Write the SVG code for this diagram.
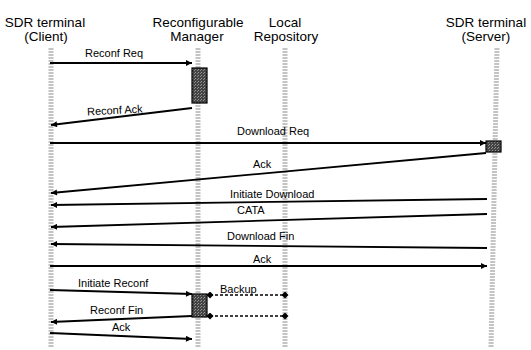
<svg xmlns="http://www.w3.org/2000/svg" width="531" height="350" viewBox="0 0 531 350">
<defs>
<marker id="arr" viewBox="0 0 10 10" refX="10" refY="5" markerWidth="8" markerHeight="6" markerUnits="userSpaceOnUse" orient="auto">
<path d="M0,0 L10,5 L0,10 z" fill="#000"/>
</marker>
<marker id="dia" viewBox="0 0 10 10" refX="5" refY="5" markerWidth="7" markerHeight="7" markerUnits="userSpaceOnUse" orient="auto">
<path d="M0,5 L5,0 L10,5 L5,10 z" fill="#000"/>
</marker>
<pattern id="tex" width="3" height="3" patternUnits="userSpaceOnUse">
<rect width="3" height="3" fill="#444"/>
<rect width="1" height="1" fill="#999"/>
<rect x="2" y="1" width="1" height="1" fill="#888"/>
</pattern>
</defs>
<style>
.hd{font-family:"Liberation Sans",Arial,sans-serif;font-size:13.5px;fill:#000;text-anchor:middle}
.lb{font-family:"Liberation Sans",Arial,sans-serif;font-size:11px;fill:#000}
.life{stroke:#c4c4c4;stroke-width:5;stroke-dasharray:2 1;fill:none}
.msg{stroke:#000;stroke-width:1.8;fill:none;marker-end:url(#arr)}
.dash{stroke:#000;stroke-width:1.4;fill:none;stroke-dasharray:3 2;marker-start:url(#dia);marker-end:url(#dia)}
.box{fill:url(#tex);stroke:#000;stroke-width:1.2}
</style>
<rect width="531" height="350" fill="#fff"/>
<g id="client">
<text class="hd" x="45" y="27">SDR terminal</text>
<text class="hd" x="46" y="41">(Client)</text>
<line class="life" x1="51" y1="48" x2="51" y2="348"/>
</g>
<g id="manager">
<text class="hd" x="198" y="27">Reconfigurable</text>
<text class="hd" x="197" y="41">Manager</text>
<line class="life" x1="198" y1="48" x2="198" y2="348"/>
<rect class="box" x="192" y="68" width="15" height="35"/>
<rect class="box" x="192" y="294" width="15" height="23"/>
</g>
<g id="repository">
<text class="hd" x="285" y="27">Local</text>
<text class="hd" x="286" y="41">Repository</text>
<line class="life" x1="285" y1="48" x2="285" y2="348"/>
</g>
<g id="server">
<text class="hd" x="486" y="27">SDR terminal</text>
<text class="hd" x="486" y="41">(Server)</text>
<line class="life" x1="497" y1="48" x2="491" y2="348"/>
<rect class="box" x="486" y="141" width="15" height="11"/>
</g>
<g id="connectors">
<line class="msg" x1="50" y1="63" x2="192" y2="63"/>
<text class="lb" x="85" y="57">Reconf Req</text>
<line class="msg" x1="192" y1="108" x2="51" y2="125"/>
<text class="lb" x="87" y="114" transform="rotate(-3 115 111)">Reconf Ack</text>
<line class="msg" x1="50" y1="143" x2="486" y2="143"/>
<text class="lb" x="237" y="135">Download Req</text>
<line class="msg" x1="486" y1="153" x2="51" y2="193"/>
<text class="lb" x="253" y="168">Ack</text>
<line class="msg" x1="487" y1="199" x2="51" y2="205"/>
<text class="lb" x="230" y="198">Initiate Download</text>
<line class="msg" x1="487" y1="214" x2="51" y2="227"/>
<text class="lb" x="237" y="214">CATA</text>
<line class="msg" x1="487" y1="248" x2="51" y2="244"/>
<text class="lb" x="227" y="240">Download Fin</text>
<line class="msg" x1="50" y1="266" x2="487" y2="266"/>
<text class="lb" x="253" y="263">Ack</text>
<line class="msg" x1="50" y1="290" x2="192" y2="294"/>
<text class="lb" x="78" y="287">Initiate Reconf</text>
<line class="dash" x1="210" y1="295" x2="285" y2="295"/>
<text class="lb" x="220" y="293">Backup</text>
<line class="dash" x1="210" y1="316" x2="285" y2="316"/>
<line class="msg" x1="192" y1="316" x2="51" y2="322"/>
<text class="lb" x="90" y="314">Reconf Fin</text>
<line class="msg" x1="50" y1="333" x2="192" y2="339"/>
<text class="lb" x="112" y="331">Ack</text>
</g>
</svg>
